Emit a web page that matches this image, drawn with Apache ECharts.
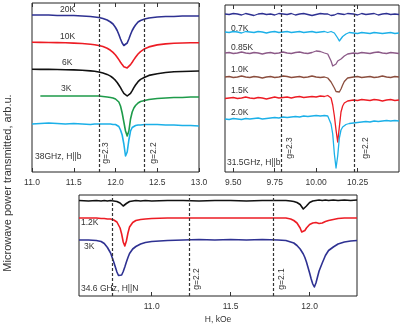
<!DOCTYPE html>
<html>
<head>
<meta charset="utf-8">
<script src="https://cdn.jsdelivr.net/npm/echarts@6/dist/echarts.min.js"></script>
<style>
  html, body { margin: 0; padding: 0; background: #fff; }
  #main { width: 407px; height: 328px; }
</style>
</head>
<body>
<div id="main"></div>
<script>
// panel 1: 38 GHz, H||b  (field in kOe, transmitted power arb.u.)
const p1X = [11.0, 11.1, 11.2, 11.3, 11.4, 11.5, 11.6, 11.7, 11.75, 11.8, 11.85, 11.9, 11.94, 11.97, 12.0,
  12.02, 12.04, 12.06, 12.08, 12.1, 12.12, 12.14, 12.16, 12.18, 12.2, 12.22, 12.24,
  12.27, 12.3, 12.35, 12.4, 12.5, 12.6, 12.7, 12.8, 12.9, 13.0]
const k20Y = [157, 157, 157, 156.5, 156.5, 156.5, 156, 155.5, 155, 154.5, 153.5, 152, 150, 148, 144.5,
  141.5, 137.5, 133, 129, 126.5, 126.5, 129, 133, 137.5, 141.5, 144.5, 147,
  150, 151.5, 153, 154, 155, 155.5, 155.5, 156, 156, 156]
const k10Y = [129.7, 129.6, 129.5, 129.4, 129.2, 128.9, 128.5, 127.8, 127.3, 126.5, 125.4, 123.7, 121.7, 119.6, 117,
  114.8, 112.4, 109.8, 107.4, 105.3, 104.1, 104.1, 105.3, 107.4, 109.8, 112.4, 114.8,
  118, 120.4, 123.3, 125.1, 127.1, 128.1, 128.7, 129, 129.2, 129.3]
const k6Y = [102.7, 102.6, 102.6, 102.5, 102.3, 102.1, 101.7, 101.1, 100.7, 100, 99, 97.6, 95.9, 94, 91.6,
  89.5, 87, 84.3, 81.4, 78.7, 76.7, 76, 76.7, 78.7, 81.4, 84.3, 87,
  90.3, 92.6, 94.8, 96.6, 98.3, 99.5, 100.2, 100.5, 100.8, 101]
const k3Y = [null, 76, 76, 76, 76, 76, 76, 76, 76, 76, 75.5, 75, 74.5, 74, 73,
  72, 70, 66, 59, 50, 41, 36, 41, 53, 60, 64, 66.5,
  69, 70.5, 71.5, 72.5, 73.5, 74, 74.5, 74.5, 75, 75]
const kLowY = [48, 48.5, 49, 48.5, 48, 48.5, 48, 47.5, 48, 48, 48, 48, 48, 47.5, 47.5,
  47, 45.5, 42, 37, 28, 16, 20, 32, 41, 44.5, 46, 46.5,
  47, 47, 47.5, 47.5, 47.5, 47, 47, 46.5, 46.5, 46]

// panel 2: 31.5 GHz, H||b
const p2X = [9.45, 9.475, 9.5, 9.525, 9.55, 9.575, 9.6, 9.625, 9.65, 9.675, 9.7, 9.725, 9.75, 9.775, 9.8, 9.825, 9.85, 9.875, 9.9, 9.925, 9.95, 9.975, 10.0, 10.025, 10.05,
  10.06, 10.07, 10.08, 10.09, 10.1, 10.11, 10.12, 10.13, 10.14, 10.15, 10.16, 10.17, 10.18, 10.19, 10.2,
  10.225, 10.25, 10.275, 10.3, 10.325, 10.35, 10.375, 10.4, 10.425, 10.45, 10.475, 10.5]
const topY = [158, 157.5, 158.5, 158, 157, 158.5, 157.5, 156.5, 158, 158.5, 157.5, 158, 157, 158.5, 158, 157.5, 158.5, 157, 158, 158.5, 157.5, 156.5, 157.5, 158.5, 158,
  157.5, 158, 157, 156.5, 156, 157, 158, 158.5, 157.5, 158, 158.5, 157.5, 158, 158.5, 157.5,
  158, 157, 158.5, 157.5, 158, 158.5, 157, 158, 158.5, 157.5, 158, 157.5]
const k07Y = [140, 139.5, 140.5, 140, 139, 140.5, 140, 139.5, 140.5, 140, 139, 140, 140.5, 139.5, 140, 140.5, 139.5, 140, 140.5, 139.5, 140, 140.5, 139.5, 140, 140.5,
  140, 139.5, 140, 140.5, 139.5, 139, 138, 134, 131, 133, 135.5, 137, 138, 139, 139.5,
  139, 138.5, 139.5, 139, 138.5, 139.5, 139, 138.5, 139, 139.5, 138.5, 139]
const k085Y = [119, 119.5, 118.5, 119, 120, 119, 118.5, 119.5, 119, 118, 119, 119.5, 118.5, 119, 120, 119, 118.5, 119.5, 120, 119, 118.5, 119.5, 121, 120.5, 119,
  118.5, 118, 116, 111, 106, 105, 108, 111, 112, 113, 114.5, 116, 117, 118, 118.5,
  119, 118.5, 119.5, 119, 118.5, 119.5, 120, 119, 118.5, 119.5, 119, 118.5]
const k10LY = [95, 95.5, 94.5, 95, 96, 95, 94.5, 95.5, 95, 94, 95, 95.5, 94.5, 95, 96, 95.5, 94.5, 95, 95.5, 94.5, 95, 96, 95, 94.5, 95,
  94.5, 94, 92.5, 90, 87, 84, 80.5, 79, 80, 83, 87, 90.5, 92.5, 94, 94.5,
  95, 95.5, 94.5, 95, 95.5, 94.5, 95, 96, 95, 94.5, 95.5, 95]
const k15Y = [73.5, 74, 74.5, 73.5, 74, 75, 74, 73.5, 74.5, 74, 73, 74, 75, 74, 74.5, 75, 74, 75, 75.5, 74.5, 75, 75.5, 75, 76, 75.5,
  76, 76.5, 76, 74, 67, 56, 42, 30, 45, 60, 66, 69, 70.5, 71, 71.5,
  72, 71.5, 72.5, 72, 71.5, 72.5, 72, 71, 72, 72.5, 71.5, 72]
const k20LY = [53, 52.5, 53.5, 53, 52.5, 53.5, 53, 53.5, 54, 53, 53.5, 54, 54.5, 54, 55, 54.5, 55, 55.5, 55, 56, 55.5, 56, 56.5, 56, 56.5,
  56.5, 56, 54, 48, 38, 18, 4, 16, 34, 42, 45, 46.5, 47.5, 48, 48.5,
  49, 49.5, 50, 50.5, 50, 51, 50.5, 51, 51.5, 51, 51.5, 51]

// panel 3: 34.6 GHz, H||N
const p3X = [10.54, 10.6, 10.65, 10.68, 10.7, 10.72, 10.74, 10.76, 10.77, 10.78, 10.79, 10.8, 10.81, 10.82, 10.83, 10.84, 10.85, 10.86, 10.88, 10.9, 10.93, 10.96,
  11.0, 11.1, 11.2, 11.3, 11.4, 11.5, 11.6, 11.7, 11.8, 11.85, 11.88, 11.9, 11.92, 11.94,
  11.95, 11.96, 11.97, 11.98, 11.99, 12.0, 12.01, 12.02, 12.03, 12.04, 12.05, 12.06, 12.08, 12.1, 12.12, 12.15, 12.18, 12.22, 12.26, 12.3]
const blackY = [95.5, 95, 95.5, 95, 95.5, 95, 95.5, 95, 95, 94.5, 94, 93, 91.5, 90, 90.5, 92.5, 94, 94.5, 95, 95.5, 95, 95.5,
  95, 95.5, 95.5, 95, 95.5, 95.5, 95, 95.5, 95.5, 95.5, 95, 94.5, 93.5, 91.5,
  89.5, 87, 87.5, 90, 92, 93.5, 94.5, 95, 95.5, 95.5, 95.5, 96, 95.5, 96, 95.5, 96, 95.5, 96, 95.5, 96]
const redY = [78, 78, 78, 77.5, 77.5, 77, 77, 76, 75, 74, 72, 68, 62, 54, 50, 55, 63, 69, 73.5, 75.5, 76.5, 77,
  77.5, 78, 78, 78, 78, 78, 78, 78, 78, 78, 77, 75.5, 73, 68,
  64, 63.5, 65.5, 68, 70, 71.5, 72.5, 73, 73.5, 73.5, 73, 72.5, 73, 74.5, 75.5, 76.5, 77.5, 78, 78, 78]
const blueY = [56, 56, 55.5, 54.5, 52.5, 48.5, 43, 34, 29, 24, 20.5, 19, 21, 24.5, 29, 34, 38.5, 42.5, 47, 49.5, 52, 53.5,
  54.5, 55.5, 56, 56.5, 56, 56.5, 56, 56.5, 56, 55.5, 54, 53, 50.5, 47,
  45, 42, 38.5, 34, 28.5, 23, 17, 12, 9, 13, 19, 25, 33, 40.5, 45.5, 49, 52, 54, 55, 55.5]

// resonance fields for the g-factor guide lines
const gLines1 = [11.805, 12.341]
const gLines2 = [9.785, 10.23]
const gLines3 = [10.748, 11.237, 11.772]

const ticks2 = [9.5, 9.75, 10.0, 10.25]
const ticks3 = [11.0, 11.5, 12.0]

const zip = (xs, ys) => xs.map((x, i) => [x, ys[i]])

let chart = echarts.init(document.querySelector('#main'), null, { renderer: 'canvas' })

const FONT = 'Liberation Sans, Arial, sans-serif'
const navy = '#2e3192', red = '#ed1c24', green = '#1e9b4a', cyan = '#1cb0e8'

function curve(name, xi, yi, data, color, width) {
  return {
    type: 'line', name: name, xAxisIndex: xi, yAxisIndex: yi,
    data: data, showSymbol: false,
    lineStyle: { color: color, width: width || 1.6, join: 'round' },
    animation: false
  }
}

function guides(xi, yi, vals) {
  return {
    type: 'line', xAxisIndex: xi, yAxisIndex: yi, data: [], animation: false,
    markLine: {
      silent: true, symbol: 'none', label: { show: false },
      lineStyle: { color: '#333', type: [3, 2], width: 1.2 },
      data: vals.map(v => ({ xAxis: v }))
    }
  }
}

function bottomAxis(grid, min, max, opts) {
  return Object.assign({
    type: 'value', gridIndex: grid, min: min, max: max, position: 'bottom',
    axisLine: { show: false },
    axisTick: { inside: true, length: 4, lineStyle: { color: '#333' } },
    axisLabel: { fontSize: 8.5, color: '#333', fontFamily: FONT, margin: 6 },
    splitLine: { show: false }
  }, opts)
}

function hiddenY(grid, max) {
  return {
    type: 'value', gridIndex: grid, min: 0, max: max,
    axisLine: { show: false }, axisTick: { show: false },
    axisLabel: { show: false }, splitLine: { show: false }
  }
}

function txt(text, x, y) {
  return {
    type: 'text', x: x, y: y, silent: true,
    style: { text: text, font: '8.5px ' + FONT, fill: '#333', textVerticalAlign: 'middle' }
  }
}

function vtxt(text, x, y) {
  return {
    type: 'text', x: x, y: y, rotation: Math.PI / 2, silent: true,
    style: { text: text, font: '8.5px ' + FONT, fill: '#333', textAlign: 'center', textVerticalAlign: 'middle' }
  }
}

let option = {
  backgroundColor: '#fff',
  animation: false,
  grid: [
    { left: 32, top: 3, width: 167, height: 169, show: true, borderColor: '#222', borderWidth: 1 },
    { left: 225, top: 5, width: 174, height: 167, show: true, borderColor: '#222', borderWidth: 1 },
    { left: 79, top: 195, width: 278, height: 101, show: true, borderColor: '#222', borderWidth: 1 }
  ],
  xAxis: [
    bottomAxis(0, 11, 13, { interval: 0.5, axisLabel: { fontSize: 8.5, color: '#333', fontFamily: FONT, margin: 6, formatter: v => v.toFixed(1) } }),
    bottomAxis(1, 9.45, 10.5, {
      axisTick: { inside: true, length: 4, lineStyle: { color: '#333' }, customValues: ticks2 },
      axisLabel: { fontSize: 8.5, color: '#333', fontFamily: FONT, margin: 6, customValues: ticks2, formatter: v => v.toFixed(2) }
    }),
    bottomAxis(2, 10.54, 12.3, {
      axisTick: { inside: true, length: 4, lineStyle: { color: '#333' }, customValues: ticks3 },
      axisLabel: { fontSize: 8.5, color: '#333', fontFamily: FONT, margin: 6, customValues: ticks3, formatter: v => v.toFixed(1) },
      name: 'H, kOe', nameLocation: 'middle', nameGap: 19,
      nameTextStyle: { fontSize: 8.5, color: '#333', fontFamily: FONT }
    }),
    bottomAxis(0, 11, 13, { position: 'top', interval: 0.5, axisLabel: { show: false } }),
    bottomAxis(1, 9.45, 10.5, { position: 'top', axisLabel: { show: false },
      axisTick: { inside: true, length: 4, lineStyle: { color: '#333' }, customValues: ticks2 } })
  ],
  yAxis: [hiddenY(0, 169), hiddenY(1, 167), hiddenY(2, 101)],
  series: [
    guides(0, 0, gLines1),
    curve('20K', 0, 0, zip(p1X, k20Y), navy),
    curve('10K', 0, 0, zip(p1X, k10Y), red),
    curve('6K', 0, 0, zip(p1X, k6Y), '#111'),
    curve('3K', 0, 0, zip(p1X, k3Y), green),
    curve('low', 0, 0, zip(p1X, kLowY), cyan),

    guides(1, 1, gLines2),
    curve('top', 1, 1, zip(p2X, topY), navy, 1.3),
    curve('0.7K', 1, 1, zip(p2X, k07Y), cyan, 1.3),
    curve('0.85K', 1, 1, zip(p2X, k085Y), '#8c5a88', 1.3),
    curve('1.0K', 1, 1, zip(p2X, k10LY), '#8b4e3e', 1.3),
    curve('1.5K', 1, 1, zip(p2X, k15Y), red, 1.3),
    curve('2.0K', 1, 1, zip(p2X, k20LY), cyan, 1.3),

    guides(2, 2, gLines3),
    curve('black', 2, 2, zip(p3X, blackY), '#111'),
    curve('1.2K', 2, 2, zip(p3X, redY), red),
    curve('3K', 2, 2, zip(p3X, blueY), navy)
  ],
  graphic: [
    {
      type: 'text', x: 8, y: 183, rotation: Math.PI / 2, silent: true,
      style: { text: 'Microwave power transmitted, arb.u.', font: '11px ' + FONT, fill: '#333', textAlign: 'center', textVerticalAlign: 'middle' }
    },
    txt('20K', 60, 10), txt('10K', 60, 37), txt('6K', 62, 63), txt('3K', 61, 89),
    txt('38GHz, H||b', 35, 157),
    vtxt('g=2.3', 106, 153), vtxt('g=2.2', 154, 153),

    txt('0.7K', 231, 29), txt('0.85K', 231, 48), txt('1.0K', 231, 70), txt('1.5K', 231, 91), txt('2.0K', 231, 113),
    txt('31.5GHz, H||b', 227, 163),
    vtxt('g=2.3', 290, 148), vtxt('g=2.2', 366, 148),

    txt('1.2K', 81, 223), txt('3K', 84, 247),
    txt('34.6 GHz, H||N', 81, 289),
    vtxt('g=2.2', 197, 279), vtxt('g=2.1', 282, 279)
  ]
}

chart.setOption(option)
</script>
</body>
</html>
